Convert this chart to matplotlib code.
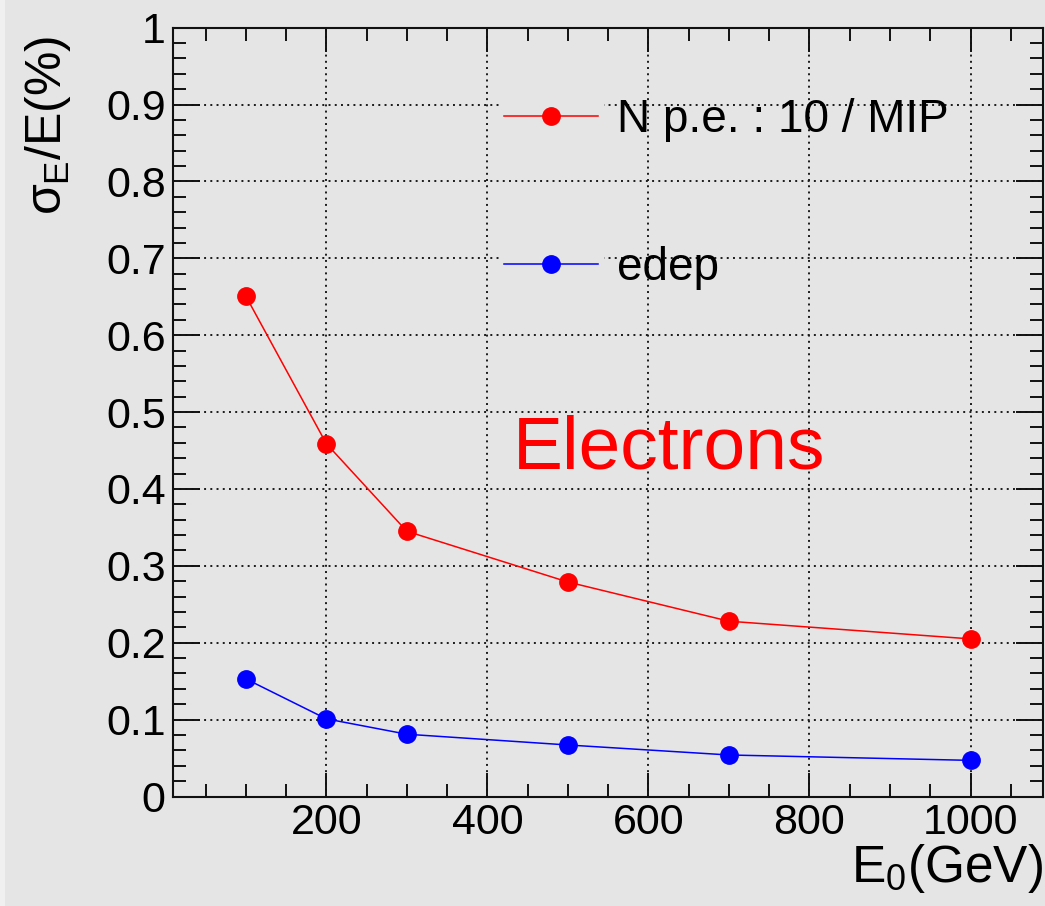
import matplotlib
matplotlib.use("Agg")
import matplotlib.pyplot as plt
from matplotlib.patches import Rectangle
from matplotlib.ticker import MultipleLocator

# ---- data ----
energy = [100, 200, 300, 500, 700, 1000]
npe_res = [0.651, 0.459, 0.345, 0.279, 0.228, 0.205]
edep_res = [0.153, 0.101, 0.081, 0.067, 0.054, 0.047]
series_labels = ["N p.e. : 10 / MIP", "edep"]
xlabel = r"E$_{\mathregular{0}}$(GeV)"
ylabel = r"$\sigma_{\mathregular{E}}$/E(%)"
annot = "Electrons"

plt.rcParams["font.family"] = ["Liberation Sans", "DejaVu Sans"]
plt.rcParams["mathtext.fontset"] = "custom"
plt.rcParams["mathtext.rm"] = "Liberation Sans"
plt.rcParams["mathtext.it"] = "Liberation Sans"
plt.rcParams["mathtext.bf"] = "Liberation Sans"

BG = "#e5e5e5"
W, H = 1045, 906
fig = plt.figure(figsize=(W / 100, H / 100), dpi=100, facecolor=BG)
fig.patches.append(Rectangle((0, 0), 5 / W, 1, transform=fig.transFigure,
                             facecolor="#f0f0f0", edgecolor="none", zorder=0))

left, right, bottom, top = 173.3 / W, 1043 / W, 1 - 796.5 / H, 1 - 27.7 / H
ax = fig.add_axes([left, bottom, right - left, top - bottom])
ax.set_facecolor(BG)

ax.set_xlim(10, 1090)
ax.set_ylim(0, 1)
ax.xaxis.set_major_locator(MultipleLocator(200))
ax.xaxis.set_minor_locator(MultipleLocator(50))
ax.yaxis.set_major_locator(MultipleLocator(0.1))
ax.yaxis.set_minor_locator(MultipleLocator(0.02))
ax.yaxis.set_major_formatter(matplotlib.ticker.FuncFormatter(
    lambda v, p: "0" if abs(v) < 1e-9 else ("1" if abs(v - 1) < 1e-9 else f"{v:.1f}")))

for s in ax.spines.values():
    s.set_linewidth(1.5)
    s.set_color("#111111")

ax.tick_params(axis="both", which="both", direction="in", top=True, right=True,
               width=1.4, color="#111111", labelsize=31)
ax.tick_params(axis="x", which="major", length=17, pad=5)
ax.tick_params(axis="y", which="major", length=19.5, pad=5.5)
ax.tick_params(axis="both", which="minor", length=9.5)

ax.set_axisbelow(True)
ax.grid(True, which="major", linestyle=(0, (1, 2.2)), linewidth=1.4, color="#1a1a1a")

# grid-hiding boxes behind legend symbols
for yc in (0.876, 0.693):
    ax.add_patch(Rectangle((0.375, yc - 0.03), 0.12, 0.06, transform=ax.transAxes,
                           facecolor=BG, edgecolor="none", zorder=1))

l1, = ax.plot(energy, npe_res, color="red", lw=1.1, marker="o", ms=12.5,
              mec="red", mfc="red", zorder=3, label=series_labels[0])
l2, = ax.plot(energy, edep_res, color="blue", lw=1.1, marker="o", ms=12.5,
              mec="blue", mfc="blue", zorder=3, label=series_labels[1])

leg = ax.legend(handles=[l1, l2], loc="upper left", bbox_to_anchor=(0.380, 0.908),
                frameon=False, fontsize=33, handlelength=2.05, handletextpad=0.42,
                labelspacing=2.25, borderpad=0, borderaxespad=0)

ax.text(0.390, 0.427, annot, transform=ax.transAxes, color="red", fontsize=54,
        ha="left", va="baseline")

ax.set_xlabel(xlabel, fontsize=37, loc="right", labelpad=-1)
ax.set_ylabel(ylabel, fontsize=36, loc="top", labelpad=24)
ax.yaxis.label.set_y(0.99)

fig.savefig("out.png", dpi=100, facecolor=BG)
